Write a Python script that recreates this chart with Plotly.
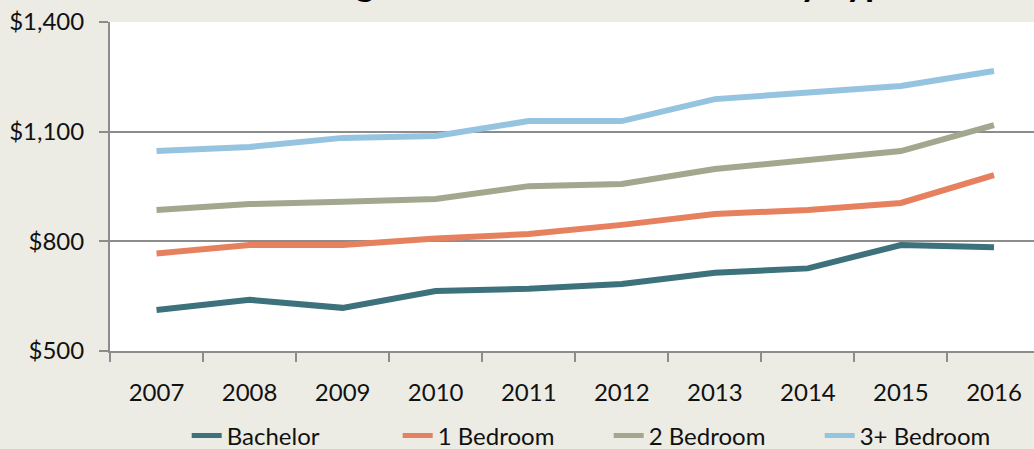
import plotly.graph_objects as go

years = ["2007", "2008", "2009", "2010", "2011", "2012", "2013", "2014", "2015", "2016"]
bachelor = [612, 640, 618, 664, 670, 683, 714, 726, 790, 784]
one_bed = [767, 790, 790, 808, 820, 845, 875, 886, 905, 981]
two_bed = [886, 902, 908, 916, 951, 957, 998, 1022, 1047, 1118]
three_bed = [1047, 1058, 1083, 1088, 1129, 1129, 1189, 1206, 1225, 1266]

y_ticks = [500, 800, 1100, 1400]
y_labels = ["$500", "$800", "$1,100", "$1,400"]

title_text = "Average Market Rent Increases by Type"

series = [
    ("Bachelor", bachelor, "#3D717C"),
    ("1 Bedroom", one_bed, "#E6805E"),
    ("2 Bedroom", two_bed, "#A1A88D"),
    ("3+ Bedroom", three_bed, "#94C4E0"),
]

BG = "#ECECE4"
GRID = "#8C8C8C"
FONT = "Lato"

fig = go.Figure()
for name, vals, col in series:
    fig.add_trace(go.Scatter(
        x=years, y=vals, mode="lines", name=name,
        line=dict(color=col, width=6),
    ))

# title sits mostly above the visible area, as in the cropped original
fig.add_annotation(
    text="<b>" + title_text + "</b>",
    xref="paper", yref="paper", x=0.159, y=1.049,
    xanchor="left", yanchor="bottom", showarrow=False,
    font=dict(family=FONT, size=37, color="#000000"),
)

fig.update_layout(
    width=1034, height=449,
    margin=dict(l=110, r=0, t=22, b=98, autoexpand=False),
    paper_bgcolor=BG, plot_bgcolor="#FFFFFF",
    font=dict(family=FONT, size=24, color="#111111"),
    showlegend=True,
    legend=dict(
        orientation="h", x=0.083, y=-0.258, xanchor="left", yanchor="middle",
        bgcolor="rgba(0,0,0,0)", font=dict(size=24),
        entrywidth=166, entrywidthmode="pixels", itemsizing="constant",
    ),
    xaxis=dict(
        type="category", range=[-0.5, 9.43], automargin=False,
        tickson="boundaries", ticks="outside", ticklen=9, tickwidth=2, tickcolor=GRID,
        showline=True, linecolor=GRID, linewidth=2, showgrid=False,
        ticklabelstandoff=19, zeroline=False,
    ),
    yaxis=dict(
        range=[500, 1400], tickvals=y_ticks, ticktext=y_labels, automargin=False,
        ticks="outside", ticklen=9, tickwidth=2, tickcolor=GRID,
        showline=True, linecolor=GRID, linewidth=2,
        showgrid=True, gridcolor=GRID, gridwidth=2,
        ticklabelstandoff=10, zeroline=False,
    ),
)

fig.write_html(
    "out.html",
    config={"displayModeBar": False},
    post_script="document.body.style.margin='0';document.body.style.background='" + BG + "';",
)
